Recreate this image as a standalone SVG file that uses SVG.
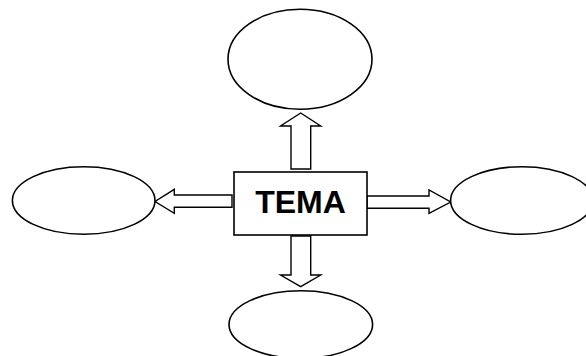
<svg xmlns="http://www.w3.org/2000/svg" width="586" height="356" viewBox="0 0 586 356">
<style>
.shape{fill:#fff;stroke:#000;stroke-width:1.6}
.arrow{fill:#fff;stroke:#000;stroke-width:1.4;stroke-linejoin:miter}
.label{font-family:"Liberation Sans",Arial,sans-serif;font-weight:bold;font-size:32px;fill:#000}
</style>
<rect width="586" height="356" fill="#fff"/>
<g id="connectors">
<path class="arrow" d="M291,169 V126 H280.5 L300.7,113 L320.7,126 H310.7 V169 Z"/>
<path class="arrow" d="M291,236 V275 H280.5 L300.7,286.7 L320.7,275 H310.7 V236 Z"/>
<path class="arrow" d="M232,195 H174.3 V189.3 L155,201.5 L174.3,213.3 V207.3 H232 Z"/>
<path class="arrow" d="M367,196 H429 V190 L450.7,202 L429,213.3 V208.3 H367 Z"/>
</g>
<g id="top"><ellipse class="shape" cx="300" cy="59.3" rx="72" ry="50"/></g>
<g id="left"><ellipse class="shape" cx="83.7" cy="200.5" rx="71.3" ry="33.8"/></g>
<g id="right"><ellipse class="shape" cx="521.8" cy="200.5" rx="71.2" ry="33.8"/></g>
<g id="bottom"><ellipse class="shape" cx="300.8" cy="324.5" rx="71.8" ry="33.8"/></g>
<g id="tema">
<rect class="shape" x="234" y="172" width="133" height="63"/>
<text class="label" x="300.5" y="213.3" text-anchor="middle">TEMA</text>
</g>
</svg>
